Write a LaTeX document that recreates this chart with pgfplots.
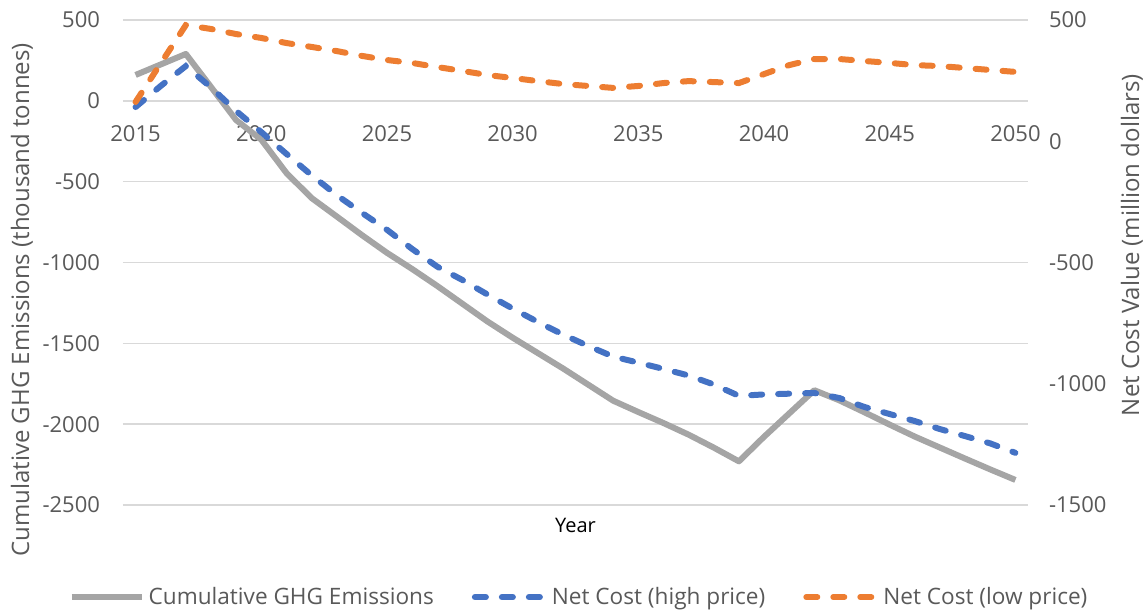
\documentclass[border=0pt]{standalone}
\usepackage{pgfplots}
\pgfplotsset{compat=1.18}
\usepackage{fontspec}
\setmainfont{Open Sans}
\definecolor{txt}{HTML}{595959}
\definecolor{grd}{HTML}{D9D9D9}
\definecolor{cgray}{HTML}{A5A5A5}
\definecolor{cblue}{HTML}{4472C4}
\definecolor{corange}{HTML}{ED7D31}

\pgfplotstableread{
year val
2015 160
2016 225
2017 290
2018 86
2019 -119
2020 -240
2021 -446
2022 -601
2023 -715
2024 -830
2025 -940
2026 -1040
2027 -1145
2028 -1255
2029 -1365
2030 -1465
2031 -1560
2032 -1655
2033 -1755
2034 -1855
2035 -1925
2036 -1993
2037 -2065
2038 -2145
2039 -2230
2040 -2078
2041 -1934
2042 -1790
2043 -1853
2044 -1927
2045 -2003
2046 -2077
2047 -2145
2048 -2213
2049 -2280
2050 -2345
}\ghg

\pgfplotstableread{
year val
2015 141
2016 228
2017 310
2018 222
2019 125
2020 38
2021 -52
2022 -140
2023 -222
2024 -295
2025 -365
2026 -444
2027 -517
2028 -572
2029 -632
2030 -690
2031 -745
2032 -797
2033 -844
2034 -888
2035 -913
2036 -939
2037 -966
2038 -1003
2039 -1050
2040 -1044
2041 -1041
2042 -1038
2043 -1059
2044 -1096
2045 -1125
2046 -1154
2047 -1187
2048 -1216
2049 -1246
2050 -1285
}\high

\pgfplotstableread{
year val
2015 162
2016 321
2017 479
2018 463
2019 442
2020 426
2021 405
2022 389
2023 372
2024 352
2025 335
2026 323
2027 306
2028 290
2029 273
2030 261
2031 248
2032 236
2033 228
2034 220
2035 228
2036 240
2037 248
2038 244
2039 240
2040 277
2041 314
2042 339
2043 339
2044 331
2045 323
2046 314
2047 310
2048 302
2049 294
2050 286
}\low

\begin{document}
\begin{tikzpicture}
\useasboundingbox (-61.5pt,-53pt) rectangle (512.5pt,252.5pt);
\pgfplotsset{
  every axis/.append style={
    scale only axis, width=452.5pt, height=242.5pt,
    xmin=2014.5, xmax=2050.5,
    /pgf/number format/1000 sep={},
    /pgf/number format/assume math mode=true,
    tick label style={font=\fontsize{11}{13}\selectfont, text=txt},
    label style={font=\fontsize{12}{14}\selectfont, text=txt},
    major tick length=0pt,
    axis line style={draw=none},
  },
  dashline/.style={line width=3pt, line cap=round, dash pattern=on 5.5pt off 8pt},
}
\begin{axis}[
  ymin=-2500, ymax=500, ytick={-2500,-2000,...,500},
  axis x line=middle, axis y line*=left,
  xtick={2015,2020,...,2050},
  ymajorgrids, grid style={grd, line width=0.75pt},
  xticklabel style={anchor=north, yshift=-9pt},
  yticklabel style={anchor=east, xshift=-8pt},
  xlabel={Year},
  xlabel style={at={(axis description cs:0.5,-0.0412)}, anchor=center},
  ylabel={Cumulative GHG Emissions (thousand tonnes)},
  ylabel style={at={(axis description cs:-0.1116,0.423)}, anchor=center},
]
\addplot[cgray, line width=3pt, line join=round] table[x=year, y=val] {\ghg};
\end{axis}
\begin{axis}[
  ymin=-1500, ymax=500, ytick={-1500,-1000,...,500},
  axis y line*=right, axis x line=none,
  yticklabel style={anchor=west, xshift=7pt},
  ylabel={Net Cost Value (million dollars)},
  ylabel style={at={(axis description cs:1.1149,0.536)}, anchor=center},
  legend style={at={(axis description cs:0.505,-0.19)}, anchor=center, draw=none, fill=none,
    font=\fontsize{11.3}{13}\selectfont, text=txt,
    /tikz/every even column/.append style={column sep=17pt}},
  legend columns=3,
  legend image code/.code={\draw[#1] (0pt,0pt) -- (35pt,0pt);},
]
\addlegendimage{cgray, line width=3pt}
\addlegendentry{Cumulative GHG Emissions}
\addplot[cblue, dashline] table[x=year, y=val] {\high};
\addlegendentry{Net Cost (high price)}
\addplot[corange, dashline] table[x=year, y=val] {\low};
\addlegendentry{Net Cost (low price)}
\end{axis}
\end{tikzpicture}
\end{document}
